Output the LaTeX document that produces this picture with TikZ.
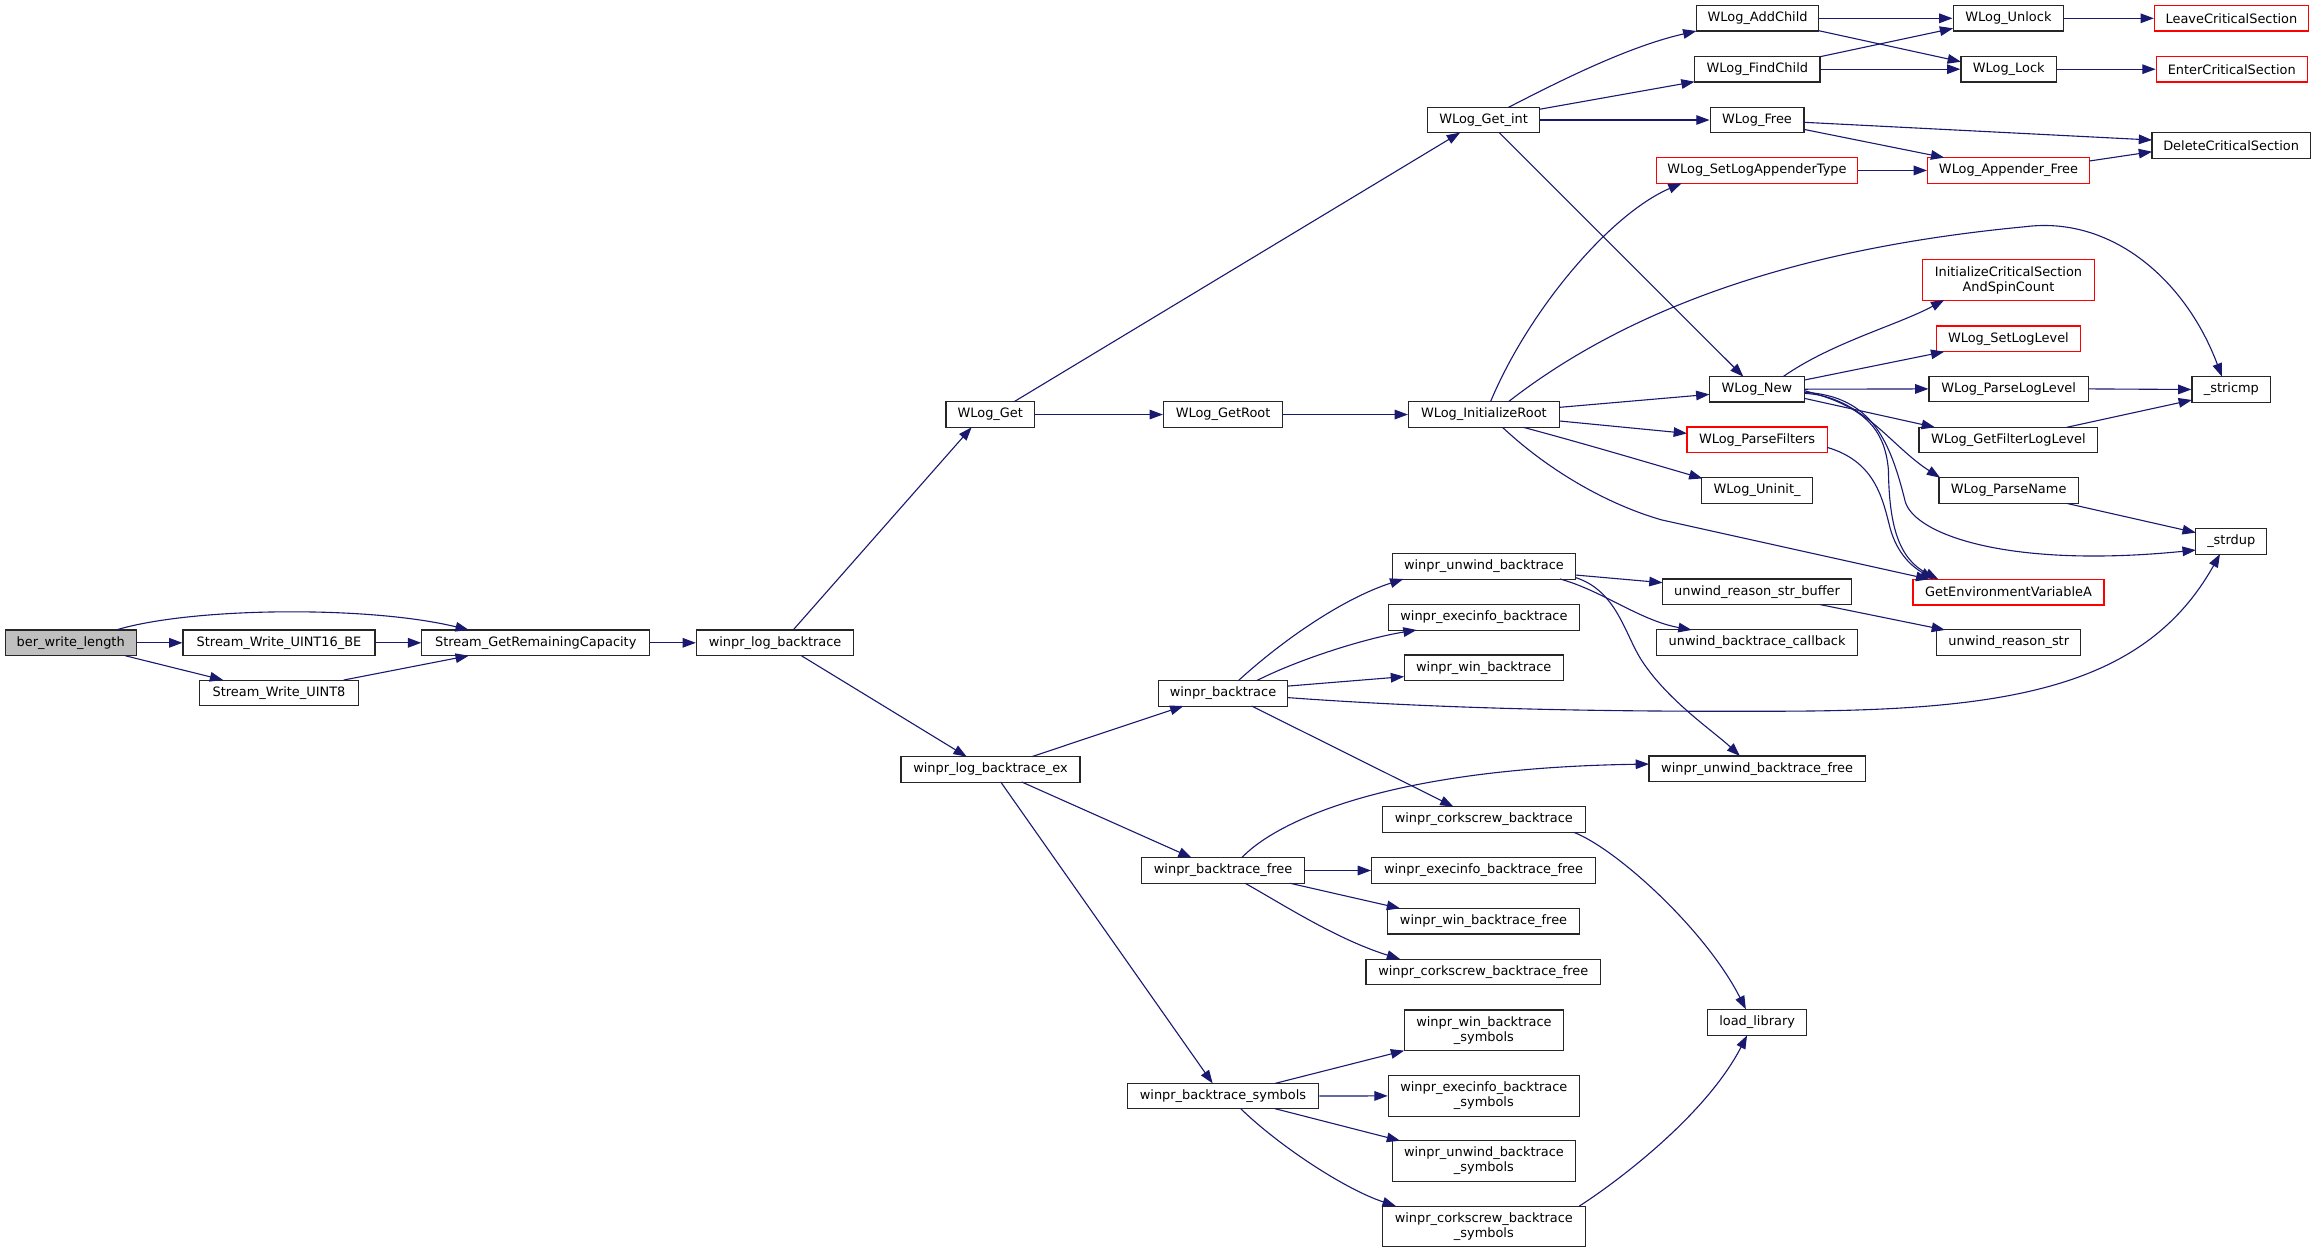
\documentclass[tikz,border=0pt]{standalone}
\usepackage{fontspec}
\setmainfont{DejaVu Sans}
\usetikzlibrary{arrows.meta,calc}
\definecolor{midnight}{HTML}{191970}
\definecolor{boxgray}{HTML}{BFBFBF}
\tikzset{
  box/.style={draw=black!85, line width=0.8pt, fill=white, inner sep=0pt,
    minimum height=17.3pt, font=\fontsize{8.75pt}{10.2pt}\selectfont, align=center},
  redbox/.style={box, draw=red},
  tallbox/.style={minimum height=27.4pt},
  conn/.style={draw=midnight, line width=0.75pt, -{Triangle[length=9pt,width=6.5pt]}}
}
\newcommand{\at}[3]{($(#1.center)+(#2,#3)$)}
\begin{document}
\begin{tikzpicture}[x=1pt,y=-1pt]
\useasboundingbox (0,0) rectangle (1568,848);
% nodes
\node[box, fill=boxgray, minimum width=88.7pt] (ber) at (47.85,435.2) {ber\_write\_length};
\node[box, minimum width=130pt] (u16) at (188.9,435.2) {Stream\_Write\_UINT16\_BE};
\node[box, minimum width=107.6pt] (u8) at (188.9,469.1) {Stream\_Write\_UINT8};
\node[box, minimum width=154.2pt] (sgrc) at (362.7,435.2) {Stream\_GetRemainingCapacity};
\node[box, minimum width=106.5pt] (wlb) at (524.75,435.2) {winpr\_log\_backtrace};
\node[box, minimum width=59.9pt] (wget) at (670.45,280.65) {WLog\_Get};
\node[box, minimum width=121.2pt] (wlbex) at (670.6,520.85) {winpr\_log\_backtrace\_ex};
\node[box, minimum width=80.7pt] (groot) at (828.05,280.65) {WLog\_GetRoot};
\node[box, minimum width=102pt] (iroot) at (1004.6,280.65) {WLog\_InitializeRoot};
\node[box, minimum width=75.5pt] (getint) at (1004.45,81.25) {WLog\_Get\_int};
\node[box, minimum width=82.9pt] (addchild) at (1189.95,12.4) {WLog\_AddChild};
\node[box, minimum width=84.9pt] (findchild) at (1189.75,46.85) {WLog\_FindChild};
\node[box, minimum width=63.5pt] (wfree) at (1189.55,81.25) {WLog\_Free};
\node[redbox, minimum width=136.3pt] (slat) at (1189.55,115.4) {WLog\_SetLogAppenderType};
\node[box, minimum width=74.9pt] (unlock) at (1359.75,12.4) {WLog\_Unlock};
\node[box, minimum width=64.7pt] (lock) at (1359.95,46.85) {WLog\_Lock};
\node[redbox, minimum width=104.3pt] (leavecs) at (1510.75,12.4) {LeaveCriticalSection};
\node[redbox, minimum width=102.3pt] (entercs) at (1510.95,46.85) {EnterCriticalSection};
\node[box, minimum width=107pt] (deletecs) at (1510.5,98.4) {DeleteCriticalSection};
\node[redbox, minimum width=109.6pt] (appfree) at (1359.8,115.4) {WLog\_Appender\_Free};
\node[redbox, tallbox, minimum width=116.7pt] (ics) at (1359.75,189.55) {InitializeCriticalSection\\AndSpinCount};
\node[redbox, minimum width=97.5pt] (setll) at (1359.75,229.3) {WLog\_SetLogLevel};
\node[box, minimum width=64.3pt] (wnew) at (1189.45,263.5) {WLog\_New};
\node[box, minimum width=107.8pt] (parsell) at (1359.9,263.3) {WLog\_ParseLogLevel};
\node[box, minimum width=53.4pt] (stricmp) at (1510.7,263.7) {\_stricmp};
\node[box, minimum width=121pt] (gfll) at (1359.7,297.9) {WLog\_GetFilterLogLevel};
\node[redbox, minimum width=95pt] (pfilt) at (1189.6,297.7) {WLog\_ParseFilters};
\node[box, minimum width=75.2pt] (uninit) at (1189.6,332.1) {WLog\_Uninit\_};
\node[box, minimum width=94.2pt] (pname) at (1359.9,332.1) {WLog\_ParseName};
\node[box, minimum width=48pt] (strdup) at (1510.6,366.65) {\_strdup};
\node[redbox, minimum width=129.3pt] (geva) at (1359.85,400.9) {GetEnvironmentVariableA};
\node[box, minimum width=123.9pt] (wub) at (1004.65,383.5) {winpr\_unwind\_backtrace};
\node[box, minimum width=129.3pt] (weib) at (1004.65,417.95) {winpr\_execinfo\_backtrace};
\node[box, minimum width=107.8pt] (wwb) at (1004.5,452.15) {winpr\_win\_backtrace};
\node[box, minimum width=87.6pt] (wb) at (828,469.4) {winpr\_backtrace};
\node[box, minimum width=128pt] (ursb) at (1189.6,400.65) {unwind\_reason\_str\_buffer};
\node[box, minimum width=136pt] (ubc) at (1189.6,435) {unwind\_backtrace\_callback};
\node[box, minimum width=97.5pt] (urs) at (1359.95,435) {unwind\_reason\_str};
\node[box, minimum width=146.4pt] (wubf) at (1189.6,520.5) {winpr\_unwind\_backtrace\_free};
\node[box, minimum width=137.2pt] (wcb) at (1004.6,554.8) {winpr\_corkscrew\_backtrace};
\node[box, minimum width=110.1pt] (wbf) at (828.05,589.35) {winpr\_backtrace\_free};
\node[box, minimum width=151.6pt] (eifree) at (1004.4,589.35) {winpr\_execinfo\_backtrace\_free};
\node[box, minimum width=129.8pt] (wfreeb) at (1004.4,623.7) {winpr\_win\_backtrace\_free};
\node[box, minimum width=158.9pt] (cfree) at (1004.25,658) {winpr\_corkscrew\_backtrace\_free};
\node[box, minimum width=67.2pt] (loadlib) at (1189.6,692.15) {load\_library};
\node[box, tallbox, minimum width=107.7pt] (wsym) at (1004.65,697.55) {winpr\_win\_backtrace\\\_symbols};
\node[box, tallbox, minimum width=129.4pt] (esym) at (1004.6,741.95) {winpr\_execinfo\_backtrace\\\_symbols};
\node[box, minimum width=129.6pt] (wbs) at (828,742.05) {winpr\_backtrace\_symbols};
\node[box, tallbox, minimum width=123.9pt] (usym) at (1004.65,785.95) {winpr\_unwind\_backtrace\\\_symbols};
\node[box, tallbox, minimum width=137.2pt] (csym) at (1004.6,830.25) {winpr\_corkscrew\_backtrace\\\_symbols};
% edges
\draw[conn] \at{ber}{30.75}{-8.7} .. controls (130,411) and (250,410) .. \at{sgrc}{-45.3}{-8.7};
\draw[conn] (ber.east) -- (u16.west);
\draw[conn] \at{ber}{36.75}{8.7} -- \at{u8}{-37.8}{-8.7};
\draw[conn] (u16.east) -- (sgrc.west);
\draw[conn] \at{u8}{43.8}{-8.7} -- \at{sgrc}{-45.3}{8.7};
\draw[conn] (sgrc.east) -- (wlb.west);
\draw[conn] \at{wlb}{12.25}{-8.7} -- \at{wget}{-12.65}{8.65};
\draw[conn] \at{wlb}{17.75}{8.7} -- \at{wlbex}{-16.1}{-8.55};
\draw[conn] \at{wget}{16.05}{-8.65} -- \at{getint}{-15.95}{8.55};
\draw[conn] (wget.east) -- (groot.west);
\draw[conn] (groot.east) -- (iroot.west);
\draw[conn] \at{getint}{16.75}{-8.55} .. controls (1050,58) and (1100,32) .. \at{addchild}{-41.45}{8.6};
\draw[conn] \at{getint}{37.75}{-7.25} -- \at{findchild}{-42.45}{8.45};
\draw[conn] (getint.east) -- (wfree.west);
\draw[conn] \at{getint}{10.55}{8.55} -- \at{wnew}{-9.15}{-8.5};
\draw[conn] (addchild.east) -- (unlock.west);
\draw[conn] \at{addchild}{41.45}{8.4} -- \at{lock}{-32.35}{-5.05};
\draw[conn] \at{findchild}{42.45}{-8.45} -- \at{unlock}{-37.45}{6.8};
\draw[conn] (findchild.east) -- (lock.west);
\draw[conn] (unlock.east) -- (leavecs.west);
\draw[conn] (lock.east) -- (entercs.west);
\draw[conn] \at{wfree}{31.75}{1.55} -- \at{deletecs}{-53.5}{-3.6};
\draw[conn] \at{wfree}{31.75}{6.35} -- \at{appfree}{-43.5}{-8.7};
\draw[conn] (slat.east) -- (appfree.west);
\draw[conn] \at{appfree}{54.8}{-6.4} -- \at{deletecs}{-53.5}{4.3};
\draw[conn] \at{iroot}{4.5}{-8.65} .. controls (1035,210) and (1090,145) .. \at{slat}{-51.05}{8.7};
\draw[conn] \at{iroot}{16.6}{-8.65} .. controls (1120,195) and (1250,165) .. (1371,153.5)
  .. controls (1430,146) and (1480,190) .. \at{stricmp}{-6.4}{-8.7};
\draw[conn] \at{iroot}{51}{-4.85} -- \at{wnew}{-32.15}{3.5};
\draw[conn] \at{iroot}{51}{4.35} -- \at{pfilt}{-47.5}{-4.3};
\draw[conn] \at{iroot}{26.7}{8.65} .. controls (1075,301) and (1115,313) .. \at{uninit}{-37}{-8.2};
\draw[conn] \at{iroot}{12.6}{8.65} .. controls (1050,320) and (1090,342) .. (1125,352) -- \at{geva}{-53.65}{-8.7};
\draw[conn] \at{wnew}{17.75}{-8.5} .. controls (1240,232) and (1285,220) .. \at{ics}{-43.45}{13.55};
\draw[conn] \at{wnew}{32.15}{-6.2} -- \at{setll}{-43.45}{8.8};
\draw[conn] (wnew.east) -- (parsell.west);
\draw[conn] \at{wnew}{32.15}{6.2} -- \at{gfll}{-49.7}{-8.6};
\draw[conn] \at{wnew}{32.15}{2.8} .. controls (1260,268) and (1280,302) .. \at{pname}{-46.4}{-8.7};
\draw[conn] \at{wnew}{32.15}{2.1} .. controls (1268,268) and (1280,300) .. (1290,340)
  .. controls (1297,362) and (1360,385) .. \at{strdup}{-24}{5.75};
\draw[conn] \at{wnew}{32.15}{1} .. controls (1262,275) and (1276,290) .. (1278.5,318)
  .. controls (1279,355) and (1285,378) .. \at{geva}{-47.55}{-8.7};
\draw[conn] \at{pfilt}{47.5}{5.2} .. controls (1268,312) and (1274,335) .. (1279,355)
  .. controls (1283,372) and (1292,382) .. \at{geva}{-50.85}{-8.7};
\draw[conn] (parsell.east) -- (stricmp.west);
\draw[conn] \at{gfll}{39.5}{-8.6} -- \at{stricmp}{-26.7}{7.1};
\draw[conn] \at{pname}{39.3}{8.7} -- \at{strdup}{-24}{-6.05};
\draw[conn] \at{wlbex}{27.9}{-8.55} -- \at{wb}{-26.8}{8.6};
\draw[conn] \at{wlbex}{21.1}{8.55} -- \at{wbf}{-21.25}{-8.65};
\draw[conn] \at{wlbex}{6.9}{8.55} -- \at{wbs}{-7}{-8.55};
\draw[conn] \at{wb}{10.4}{-8.6} .. controls (870,432) and (910,405) .. \at{wub}{-54.55}{8.5};
\draw[conn] \at{wb}{22.8}{-8.6} .. controls (880,446) and (925,432) .. \at{weib}{-45.55}{8.55};
\draw[conn] \at{wb}{43.8}{-4.9} -- \at{wwb}{-53.9}{5.95};
\draw[conn] \at{wb}{43.8}{2.9} .. controls (950,478) and (1050,482) .. (1190,481.5)
  .. controls (1350,482) and (1450,470) .. \at{strdup}{-7.6}{8.45};
\draw[conn] \at{wb}{19.4}{8.6} -- \at{wcb}{-20.6}{-8.7};
\draw[conn] \at{wub}{61.95}{5.8} -- \at{ursb}{-64}{-6.15};
\draw[conn] \at{wub}{51.55}{8.5} .. controls (1085,400) and (1110,420) .. \at{ubc}{-44.3}{-8.5};
\draw[conn] \at{wub}{61.95}{7.5} .. controls (1095,400) and (1100,430) .. (1112,448)
  .. controls (1130,475) and (1160,495) .. \at{wubf}{-11.6}{-8.7};
\draw[conn] \at{ursb}{42.6}{8.65} -- \at{urs}{-43.15}{-8.5};
\draw[conn] \at{wcb}{60.9}{8.7} .. controls (1095,575) and (1155,630) .. \at{loadlib}{-7.6}{-8.85};
\draw[conn] \at{wbf}{12.65}{-8.65} .. controls (860,560) and (930,520) .. \at{wubf}{-73.2}{-3.2};
\draw[conn] (wbf.east) -- (eifree.west);
\draw[conn] \at{wbf}{45.35}{8.65} -- \at{wfreeb}{-56.5}{-8.7};
\draw[conn] \at{wbf}{14.95}{8.65} .. controls (868,612) and (905,636) .. \at{cfree}{-56.35}{-8.7};
\draw[conn] \at{wbs}{35.2}{-8.55} -- \at{wsym}{-54}{13.75};
\draw[conn] (wbs.east) -- (esym.west);
\draw[conn] \at{wbs}{35.2}{8.55} -- \at{usym}{-56.75}{-13.65};
\draw[conn] \at{wbs}{12}{8.55} .. controls (865,775) and (910,805) .. \at{csym}{-59.6}{-13.75};
\draw[conn] \at{csym}{64.7}{-13.75} .. controls (1095,800) and (1155,755) .. \at{loadlib}{-6.8}{8.85};
\end{tikzpicture}
\end{document}
